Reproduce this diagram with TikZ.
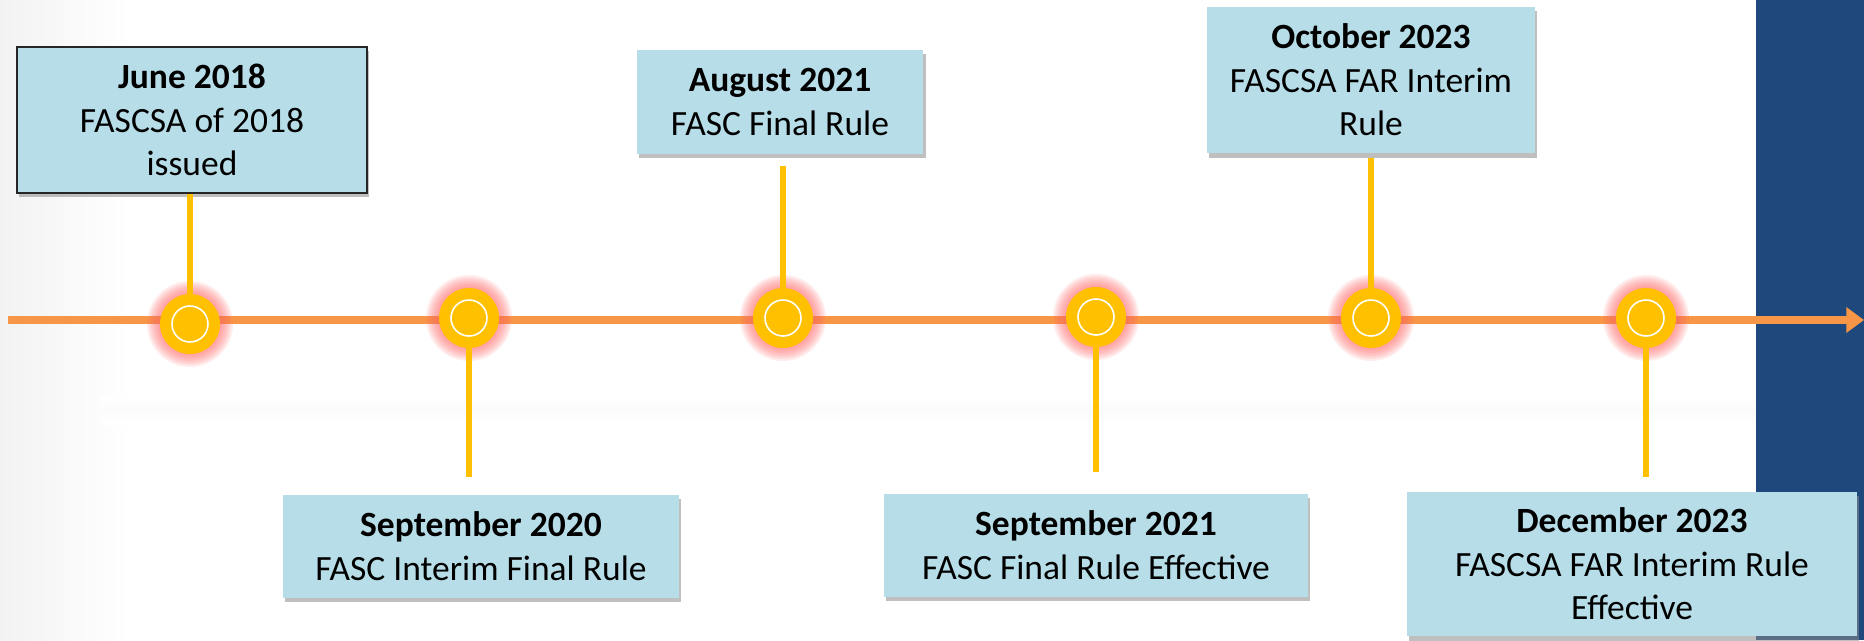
\documentclass[tikz,border=0pt]{standalone}
\usepackage{fontspec}
\setmainfont{Carlito}
\usetikzlibrary{arrows.meta,shadows}

\definecolor{boxblue}{HTML}{B7DEE8}
\definecolor{axisorange}{HTML}{F79646}
\definecolor{stemyellow}{HTML}{FFC000}
\definecolor{panelblue}{HTML}{1F497D}

\tikzset{
  evbox/.style={fill=boxblue, align=center, inner sep=0pt,
    font=\fontsize{20.2}{24.8}\selectfont,
    drop shadow={shadow xshift=1.2pt, shadow yshift=-2.5pt, fill=black!45, opacity=0.55}},
  stem/.style={stemyellow, line width=3.6pt},
  dot/.style={circle, fill=stemyellow, minimum size=1.2cm, inner sep=0pt},
  ring/.style={white, line width=0.9pt},
  glow/.style={fill=red!60!white, opacity=0.12}
}

\begin{document}
\begin{tikzpicture}[x=0.02cm,y=-0.02cm]
% page, soft edge and side panel
\useasboundingbox (0,0) rectangle (1864,640);
\fill[white] (0,0) rectangle (1864,640);
\shade[left color=black!5, right color=white] (0,0) rectangle (130,640);
\shade[top color=white, bottom color=white, middle color=black!1.5] (100,396) rectangle (1756,424);
\fill[panelblue] (1756,0) rectangle (1864,640);
% time axis
\coordinate (start) at (8,320);
\coordinate (end) at (1864,320);
\draw[axisorange, line width=4.4pt, -{Triangle[length=10pt,width=14pt]}] (start) -- (end);
% milestone points with their glow
\foreach \n/\x/\y in {p1/190/324,p2/469/318,p3/783/318,p4/1096/317,p5/1371/318,p6/1646/318}{
  \coordinate (\n) at (\x,\y);
  \foreach \r in {43,41,...,31} \fill[glow] (\n) circle[radius=\r];
}
% event boxes
\node[evbox, draw=black!85, line width=1pt, minimum width=7cm, minimum height=2.92cm] (jun18) at (192,120)
  {\textbf{June 2018}\\FASCSA of 2018\\issued};
\node[evbox, minimum width=7.92cm, minimum height=2.06cm] (sep20) at (481,546)
  {\textbf{September 2020}\\FASC Interim Final Rule};
\node[evbox, minimum width=5.74cm, minimum height=2.08cm] (aug21) at (780,102)
  {\textbf{August 2021}\\FASC Final Rule};
\node[evbox, minimum width=8.48cm, minimum height=2.06cm] (sep21) at (1096,545)
  {\textbf{September 2021}\\FASC Final Rule Effective};
\node[evbox, minimum width=6.56cm, minimum height=2.94cm] (oct23) at (1371,80)
  {\textbf{October 2023}\\FASCSA FAR Interim\\Rule};
\node[evbox, minimum width=9cm, minimum height=2.9cm] (dec23) at (1632,564)
  {\textbf{December 2023}\\FASCSA FAR Interim Rule\\Effective};
% stems from the axis to the boxes
\draw[stem] (p1) -- (p1 |- jun18.south);
\draw[stem, shorten >=9.6pt] (p2) -- (p2 |- sep20.north);
\draw[stem, shorten >=6.8pt] (p3) -- (p3 |- aug21.south);
\draw[stem, shorten >=12pt] (p4) -- (p4 |- sep21.north);
\draw[stem, shorten >=2.3pt] (p5) -- (p5 |- oct23.south);
\draw[stem, shorten >=8pt] (p6) -- (p6 |- dec23.north);
% dots with white rings
\foreach \n in {p1,p2,p3,p4,p5,p6}{
  \node[dot] (dot\n) at (\n) {};
  \draw[ring] (\n) circle[radius=18];
}
\end{tikzpicture}
\end{document}
